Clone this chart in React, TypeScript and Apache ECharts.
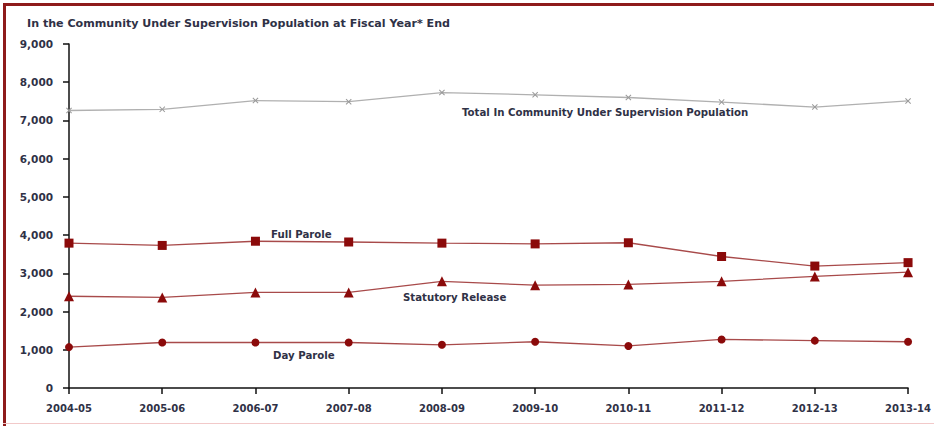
import React, { useEffect, useRef } from "react";
import * as echarts from "echarts";

const categories = ["2004-05", "2005-06", "2006-07", "2007-08", "2008-09", "2009-10", "2010-11", "2011-12", "2012-13", "2013-14"];
const totalCommunity = [7260, 7290, 7520, 7490, 7730, 7670, 7600, 7480, 7350, 7510];
const fullParole = [3790, 3730, 3840, 3820, 3790, 3770, 3800, 3440, 3190, 3280];
const statutoryRelease = [2400, 2370, 2500, 2500, 2790, 2690, 2710, 2790, 2920, 3030];
const dayParole = [1070, 1190, 1190, 1190, 1130, 1210, 1100, 1270, 1240, 1210];
const yTicks = { min: 0, max: 9000, interval: 1000 };

const TEXT = "#2f3146";
const RED_LINE = "#a84a4a";
const RED_MARK = "#8b0a0a";
const FONT = "'DejaVu Sans', Verdana, sans-serif";
const X_SYMBOL = "path://M0,1.2L1.2,0L5,3.8L8.8,0L10,1.2L6.2,5L10,8.8L8.8,10L5,6.2L1.2,10L0,8.8L3.8,5Z";

export default function App() {
  const ref = useRef<HTMLDivElement>(null);
  useEffect(() => {
    if (!ref.current) return;
    const chart = echarts.init(ref.current, undefined, { renderer: "svg" });
    const redSeries = (name: string, data: number[], symbol: string, size: number) => ({
      name,
      type: "line",
      data,
      symbol,
      symbolSize: size,
      showAllSymbol: true,
      lineStyle: { color: RED_LINE, width: 1.3 },
      itemStyle: { color: RED_MARK },
    });
    const labelStyle = { fill: TEXT, fontSize: 10.2, fontWeight: "bold", fontFamily: FONT };
    chart.setOption({
      animation: false,
      backgroundColor: "#ffffff",
      textStyle: { fontFamily: FONT },
      grid: { left: 69, right: 25, top: 44, bottom: 38 },
      xAxis: {
        type: "category",
        data: categories,
        boundaryGap: false,
        axisLine: { lineStyle: { color: "#111", width: 1.5 } },
        axisTick: { show: true, length: 6, lineStyle: { color: "#111", width: 1.5 } },
        axisLabel: { color: TEXT, fontSize: 10, fontWeight: "bold", margin: 15, fontFamily: FONT },
        splitLine: { show: false },
      },
      yAxis: {
        type: "value",
        min: yTicks.min,
        max: yTicks.max,
        interval: yTicks.interval,
        axisLine: { show: true, lineStyle: { color: "#111", width: 1.5 } },
        axisTick: { show: true, length: 6, lineStyle: { color: "#111", width: 1.5 } },
        axisLabel: {
          color: TEXT,
          fontSize: 10.5,
          fontWeight: "bold",
          margin: 16,
          fontFamily: FONT,
          formatter: (v: number) => v.toLocaleString("en-US"),
        },
        splitLine: { show: false },
      },
      series: [
        {
          name: "Total In Community Under Supervision Population",
          type: "line",
          data: totalCommunity,
          symbol: X_SYMBOL,
          symbolSize: 6,
          lineStyle: { color: "#b0b0b0", width: 1.3 },
          itemStyle: { color: "#9a9a9a" },
        },
        redSeries("Full Parole", fullParole, "rect", 9),
        redSeries("Statutory Release", statutoryRelease, "triangle", 10),
        redSeries("Day Parole", dayParole, "circle", 8),
      ],
      graphic: [
        { type: "rect", shape: { x: 3, y: 3, width: 931, height: 3 }, style: { fill: "#8e1b1b" } },
        { type: "rect", shape: { x: 3, y: 3, width: 3, height: 423 }, style: { fill: "#8e1b1b" } },
        { type: "rect", shape: { x: 3, y: 423, width: 931, height: 1 }, style: { fill: "#f2c9c9" } },
        {
          type: "text",
          x: 27,
          y: 23,
          style: { ...labelStyle, text: "In the Community Under Supervision Population at Fiscal Year* End", fontSize: 11.1, verticalAlign: "middle" },
        },
        { type: "text", x: 462, y: 112, style: { ...labelStyle, text: "Total In Community Under Supervision Population", verticalAlign: "middle" } },
        { type: "text", x: 271, y: 234, style: { ...labelStyle, text: "Full Parole", verticalAlign: "middle" } },
        { type: "text", x: 403, y: 297, style: { ...labelStyle, text: "Statutory Release", verticalAlign: "middle" } },
        { type: "text", x: 273, y: 355, style: { ...labelStyle, text: "Day Parole", verticalAlign: "middle" } },
      ],
    });
    return () => chart.dispose();
  }, []);
  return (
    <div
      ref={ref}
      style={{ position: "absolute", left: 0, top: 0, width: 934, height: 426, background: "#fff" }}
    />
  );
}
